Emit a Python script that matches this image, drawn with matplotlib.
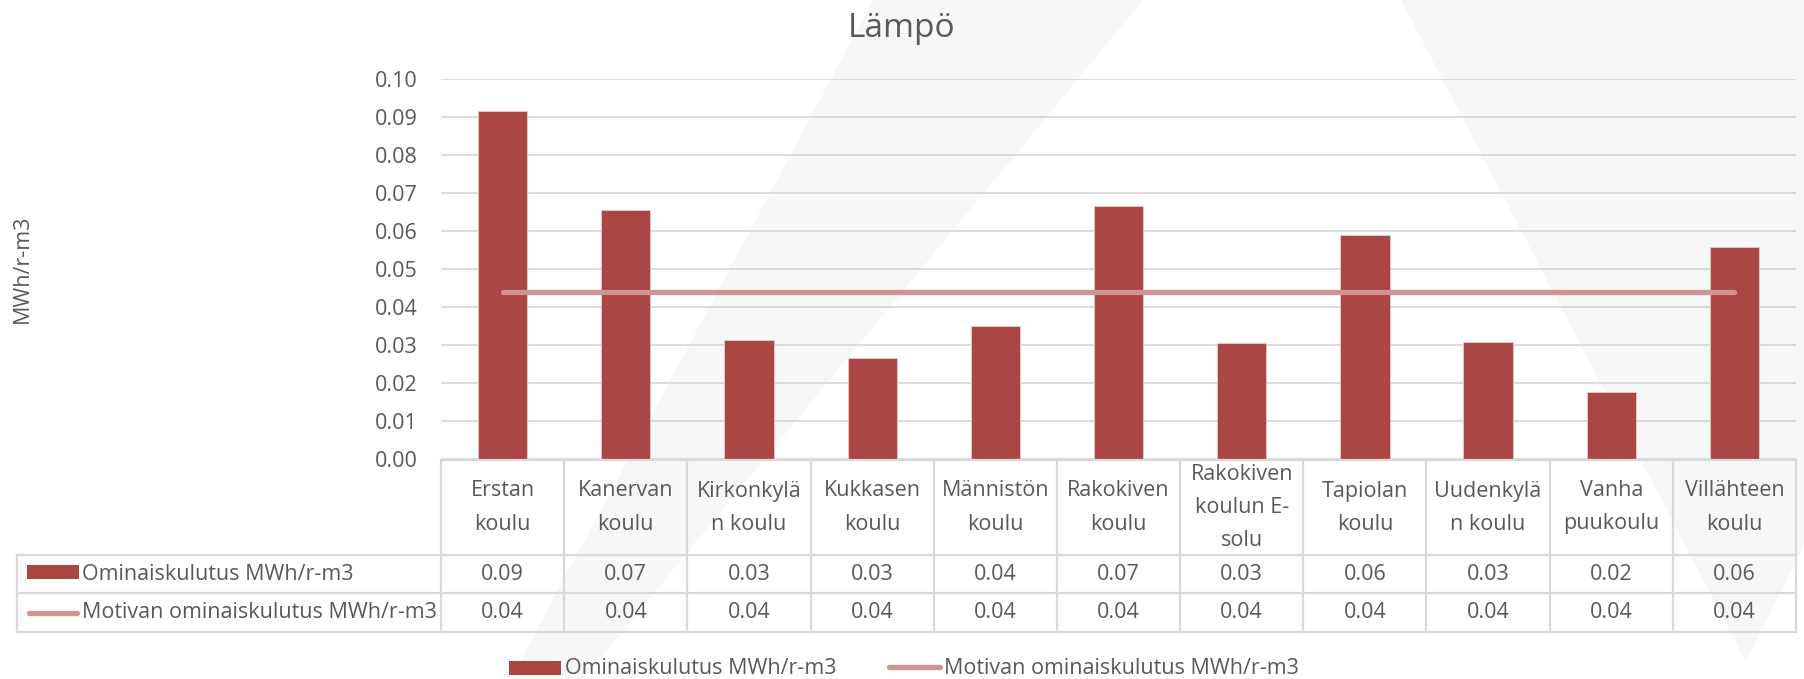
import matplotlib
matplotlib.use("Agg")
import matplotlib.pyplot as plt
import matplotlib.transforms as mtransforms
from matplotlib.patches import Rectangle, Polygon
from matplotlib.lines import Line2D

plt.rcParams['font.family'] = ['Open Sans', 'DejaVu Sans']

# data
schools = ["Erstan\nkoulu", "Kanervan\nkoulu", "Kirkonkylä\nn koulu", "Kukkasen\nkoulu",
           "Männistön\nkoulu", "Rakokiven\nkoulu", "Rakokiven\nkoulun E-\nsolu",
           "Tapiolan\nkoulu", "Uudenkylä\nn koulu", "Vanha\npuukoulu", "Villähteen\nkoulu"]
ominais = [0.0917, 0.0656, 0.0314, 0.0267, 0.0351, 0.0667, 0.0306, 0.0589, 0.0308, 0.0177, 0.0558]
motiva = [0.044] * 11
yticks = [0.00, 0.01, 0.02, 0.03, 0.04, 0.05, 0.06, 0.07, 0.08, 0.09, 0.10]
name_bar = "Ominaiskulutus MWh/r-m3"
name_line = "Motivan ominaiskulutus MWh/r-m3"

W, H = 1804, 679
bar_c = '#aa4644'
line_c = '#d49393'
txt_c = '#595959'
grid_c = '#d9d9d9'
fs = 15.5


def fx(x):
    return x / W


def fy(y):
    return 1 - y / H


fig = plt.figure(figsize=(W / 100, H / 100), dpi=100)

# faint background shapes
for pts in ([(873, 0), (1143, 0), (583, 679), (511, 679)],
            [(1401, 0), (1804, 0), (1804, 545), (1746, 662)]):
    fig.add_artist(Polygon([(fx(a), fy(b)) for a, b in pts], closed=True,
                           transform=fig.transFigure, facecolor='#f6f7f7',
                           edgecolor='none', zorder=-5))

ax = fig.add_axes([fx(441), fy(459.3), fx(1796) - fx(441), fy(79.3) - fy(459.3)])
ax.set_facecolor('none')
x = list(range(len(schools)))
ax.bar(x, ominais, width=0.4, color=bar_c, edgecolor='#e9cccc', linewidth=0.6, zorder=2)
ax.plot(x, motiva, color=line_c, lw=3.8, solid_capstyle='round', zorder=3)
ax.set_xlim(-0.5, len(schools) - 0.5)
ax.set_ylim(0, 0.10)
ax.set_yticks(yticks)
ax.set_yticklabels([f"{v:.2f}" for v in yticks], fontsize=fs, color=txt_c)
ax.tick_params(axis='y', length=0, pad=17)
ax.set_xticks([])
ax.yaxis.grid(True, color=grid_c, lw=1.3)
ax.set_axisbelow(True)
for s in ax.spines.values():
    s.set_visible(False)

fig.text(fx(902), fy(36.7), "Lämpö", fontsize=24, color=txt_c, ha='center', va='baseline')
fig.text(fx(22), fy(269.3), "MWh/r-m3", fontsize=fs, color=txt_c, rotation=90,
         ha='center', va='center')

# data table under the axis
blend = mtransforms.blended_transform_factory(ax.transData, fig.transFigure)
row_top, row_cat, row_1, row_2 = 460, 555, 593.3, 631.7
tcol = grid_c
tlw = 1.6
n = len(schools)
for i in range(n + 1):
    fig.add_artist(Line2D([i - 0.5, i - 0.5], [fy(row_top), fy(row_2)], transform=blend,
                          color=tcol, lw=tlw))
fig.add_artist(Line2D([-0.5, n - 0.5], [fy(row_top), fy(row_top)], transform=blend,
                      color=tcol, lw=tlw))
left_px = 16.7
for yy in (row_cat, row_1, row_2):
    fig.add_artist(Line2D([fx(left_px), fx(1796)], [fy(yy), fy(yy)],
                          transform=fig.transFigure, color=tcol, lw=tlw))
fig.add_artist(Line2D([fx(left_px), fx(left_px)], [fy(row_cat), fy(row_2)],
                      transform=fig.transFigure, color=tcol, lw=tlw))

yc_cat = fy((row_top + row_cat) / 2)
yc_1 = fy((row_cat + row_1) / 2)
yc_2 = fy((row_1 + row_2) / 2)
for i, name in enumerate(schools):
    fig.text(i, yc_cat, name, transform=blend, fontsize=fs, color=txt_c,
             ha='center', va='center', linespacing=1.75, multialignment='center')
    fig.text(i, yc_1, f"{ominais[i]:.2f}", transform=blend, fontsize=fs, color=txt_c,
             ha='center', va='center')
    fig.text(i, yc_2, f"{motiva[i]:.2f}", transform=blend, fontsize=fs, color=txt_c,
             ha='center', va='center')

# row headers with legend keys
fig.add_artist(Rectangle((fx(27), fy(579)), fx(52), 14 / H, transform=fig.transFigure,
                         facecolor=bar_c, edgecolor='none'))
fig.text(fx(82), yc_1, name_bar, fontsize=fs, color=txt_c, ha='left', va='center')
fig.add_artist(Line2D([fx(29), fx(77)], [yc_2, yc_2], transform=fig.transFigure,
                      color=line_c, lw=3.8, solid_capstyle='round'))
fig.text(fx(82), yc_2, name_line, fontsize=fs, color=txt_c, ha='left', va='center')

# legend
fig.add_artist(Rectangle((fx(509), fy(675)), fx(52), 14 / H, transform=fig.transFigure,
                         facecolor=bar_c, edgecolor='none'))
fig.text(fx(565), fy(668), name_bar, fontsize=fs, color=txt_c, ha='left', va='center')
fig.add_artist(Line2D([fx(889), fx(940)], [fy(667), fy(667)], transform=fig.transFigure,
                      color=line_c, lw=3.8, solid_capstyle='round'))
fig.text(fx(944), fy(668), name_line, fontsize=fs, color=txt_c, ha='left', va='center')

fig.savefig("out.png", dpi=100)
